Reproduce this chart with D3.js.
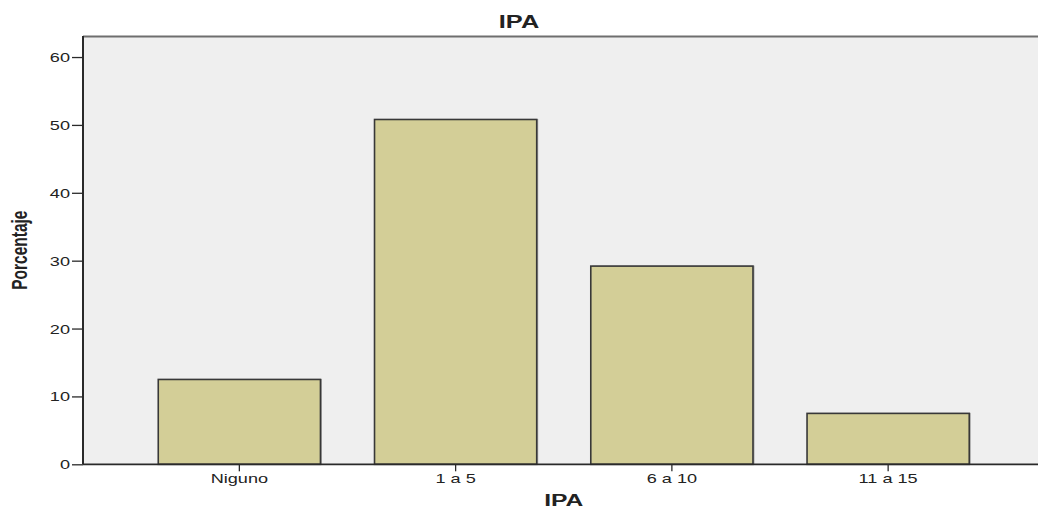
<!DOCTYPE html>
<html>
<head>
<meta charset="utf-8">
<script src="https://cdn.jsdelivr.net/npm/d3@7"></script>
<style>
  html, body { margin: 0; padding: 0; background: #ffffff; }
  svg { display: block; }
  text { font-family: Arial, "Liberation Sans", sans-serif; fill: #222; }
</style>
</head>
<body>
<svg id="chart" width="1038" height="509"></svg>
<script>
// ---- data ----
const categories = ["Niguno", "1 a 5", "6 a 10", "11 a 15"];
const values = [12.5, 50.8, 29.2, 7.5];
const yTicks = [0, 10, 20, 30, 40, 50, 60];
const chartTitle = "IPA";
const xTitle = "IPA";
const yTitle = "Porcentaje";

// ---- layout ----
const W = 1038, H = 509;
const plotLeft = 83, plotRight = 1044.5, plotTop = 36, plotBottom = 464.3;
const stretch = 1.45; // horizontal stretch of the original picture

const svg = d3.select("#chart");

const x = d3.scaleBand()
  .domain(categories)
  .range([plotLeft, plotRight])
  .paddingInner(0.25)
  .paddingOuter(0.348);

const y = d3.scaleLinear()
  .domain([0, 63.1])
  .range([plotBottom, plotTop]);

// plot background
svg.append("rect")
  .attr("x", plotLeft).attr("y", plotTop)
  .attr("width", plotRight - plotLeft).attr("height", plotBottom - plotTop)
  .attr("fill", "#efefef");

// top frame line
svg.append("line")
  .attr("x1", plotLeft).attr("x2", plotRight)
  .attr("y1", plotTop + 0.5).attr("y2", plotTop + 0.5)
  .attr("stroke", "#6e6e6e").attr("stroke-width", 2);

const data = categories.map((c, i) => ({ c, v: values[i] }));

// bar shadows
svg.append("g").selectAll("rect").data(data).join("rect")
  .attr("x", d => x(d.c) + 1.5)
  .attr("y", d => y(d.v) - 0.5)
  .attr("width", x.bandwidth())
  .attr("height", d => y(0) - y(d.v) + 0.5)
  .attr("fill", "#7a7a7a").attr("opacity", 0.6);

// bars
svg.append("g").selectAll("rect").data(data).join("rect")
  .attr("x", d => x(d.c))
  .attr("y", d => y(d.v))
  .attr("width", x.bandwidth())
  .attr("height", d => y(0) - y(d.v))
  .attr("fill", "#d3ce97")
  .attr("stroke", "#383838")
  .attr("stroke-width", 1.6);

// y axis
const yAxis = d3.axisLeft(y).tickValues(yTicks).tickSize(11).tickPadding(0).tickFormat(d3.format("d"));
const gy = svg.append("g").attr("transform", `translate(${plotLeft},0)`).call(yAxis);
gy.select(".domain").attr("stroke", "#2a2a2a").attr("stroke-width", 2)
  .attr("d", `M0,${plotTop}V${plotBottom}`);
gy.selectAll(".tick line").attr("stroke", "#2a2a2a").attr("stroke-width", 1.3);
gy.selectAll(".tick text")
  .attr("x", 0)
  .attr("dy", "0.36em")
  .attr("transform", `translate(-13,0) scale(${stretch},1)`)
  .style("font-size", "12.5px")
  .style("fill", "#222");

// x axis
const xAxis = d3.axisBottom(x).tickSize(7).tickPadding(0).tickSizeOuter(0);
const gx = svg.append("g").attr("transform", `translate(0,${plotBottom})`).call(xAxis);
gx.select(".domain").attr("stroke", "#2a2a2a").attr("stroke-width", 1.8)
  .attr("d", `M${plotLeft},0H${plotRight}`);
gx.selectAll(".tick line").attr("stroke", "#2a2a2a").attr("stroke-width", 1.3);
gx.selectAll(".tick text")
  .attr("y", 0).attr("dy", 0)
  .attr("transform", `translate(0,18.5) scale(${stretch},1)`)
  .style("font-size", "12.5px")
  .style("fill", "#222");

// title
svg.append("text")
  .attr("transform", `translate(${W / 2},28) scale(${stretch},1)`)
  .attr("text-anchor", "middle")
  .style("font-size", "17.5px").style("font-weight", "bold")
  .text(chartTitle);

// x title
svg.append("text")
  .attr("transform", `translate(${(plotLeft + plotRight) / 2},506) scale(${stretch},1)`)
  .attr("text-anchor", "middle")
  .style("font-size", "17px").style("font-weight", "bold")
  .text(xTitle);

// y title
svg.append("text")
  .attr("transform", `translate(27,${(plotTop + plotBottom) / 2}) scale(${stretch},1) rotate(-90)`)
  .attr("text-anchor", "middle")
  .style("font-size", "15.5px").style("font-weight", "bold")
  .text(yTitle);
</script>
</body>
</html>
